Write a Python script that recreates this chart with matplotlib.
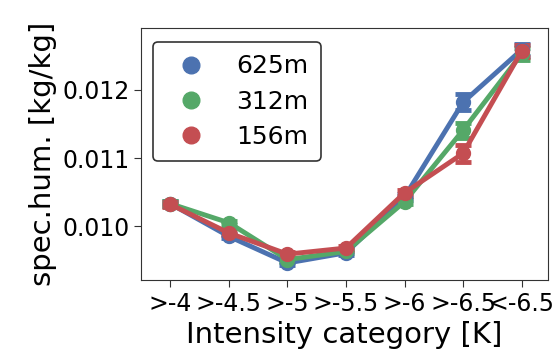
import matplotlib
matplotlib.use("Agg")
from matplotlib import pyplot as plt

categories = [">-4", ">-4.5", ">-5", ">-5.5", ">-6", ">-6.5", "<-6.5"]
labels = ["625m", "312m", "156m"]
colors = ["#4C72B0", "#55A868", "#C44E52"]

q625 = [0.01033, 0.00985, 0.00946, 0.00961, 0.01043, 0.01182, 0.01259]
q312 = [0.01033, 0.01005, 0.00951, 0.00963, 0.01036, 0.01141, 0.01253]
q156 = [0.01032, 0.00990, 0.00959, 0.00968, 0.01049, 0.01107, 0.01257]
err625 = [0.00004, 0.00003, 0.00003, 0.00003, 0.00004, 0.00012, 0.00009]
err312 = [0.00004, 0.00003, 0.00003, 0.00003, 0.00004, 0.00011, 0.00009]
err156 = [0.00004, 0.00003, 0.00003, 0.00003, 0.00004, 0.00012, 0.00009]

fig, ax = plt.subplots(figsize=(5.58, 3.59), dpi=100)
x = list(range(len(categories)))
for y, e, lab, c in zip([q625, q312, q156], [err625, err312, err156], labels, colors):
    ax.errorbar(x, y, yerr=e, color=c, lw=3.5, marker="o", ms=10,
                capsize=6, capthick=3.5, elinewidth=3.5, label=lab)

ax.set_xlim(-0.5, 6.45)
ax.set_ylim(0.00921, 0.01291)
ax.set_yticks([0.010, 0.011, 0.012])
ax.set_xticks(x)
ax.set_xticklabels(categories)
ax.tick_params(labelsize=17, length=5, color="#333333")
for s in ax.spines.values():
    s.set_color("#333333")
ax.set_xlabel("Intensity category [K]", fontsize=21)
ax.set_ylabel("spec.hum. [kg/kg]", fontsize=21)

handles = [plt.Line2D([], [], ls="", marker="o", ms=12, color=c) for c in colors]
leg = ax.legend(handles, labels, fontsize=18, loc="upper left", frameon=True,
                edgecolor="black", fancybox=True, handletextpad=0.8,
                borderpad=0.5, labelspacing=0.45, borderaxespad=0,
                bbox_to_anchor=(0.03, 0.945))
leg.get_frame().set_linewidth(1.2)

fig.subplots_adjust(left=0.253, right=0.982, top=0.922, bottom=0.22)
fig.savefig("out.png", dpi=100)
